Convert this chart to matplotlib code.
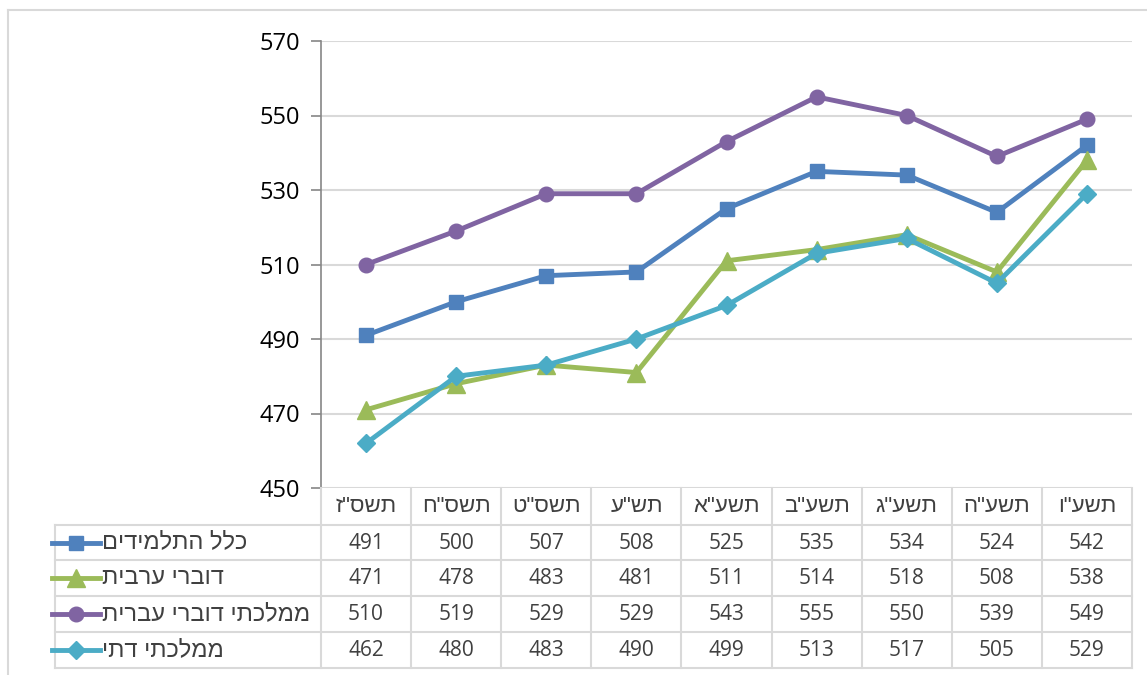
import numpy as np
import matplotlib.pyplot as plt
from matplotlib.lines import Line2D

# years (Hebrew calendar), logical order
years = ['תשס"ז', 'תשס"ח', 'תשס"ט', 'תש"ע', 'תשע"א', 'תשע"ב', 'תשע"ג', 'תשע"ה', 'תשע"ו']

all_students = [491, 500, 507, 508, 525, 535, 534, 524, 542]
arabic = [471, 478, 483, 481, 511, 514, 518, 508, 538]
hebrew_state = [510, 519, 529, 529, 543, 555, 550, 539, 549]
state_religious = [462, 480, 483, 490, 499, 513, 517, 505, 529]

series_names = ['כלל התלמידים', 'דוברי ערבית', 'ממלכתי דוברי עברית', 'ממלכתי דתי']
series_vals = [all_students, arabic, hebrew_state, state_religious]
colors = ['#4F81BD', '#9BBB59', '#8064A2', '#4BACC6']
markers = ['s', '^', 'o', 'D']
msizes = [10.5, 12.5, 10.5, 9.5]

FONT = ['Open Sans', 'DejaVu Sans']
HEB = ['Liberation Sans', 'DejaVu Sans']
GRID = '#D9D9D9'
W, H = 1147, 675


def rtl(s):
    # matplotlib has no bidi support, so feed it visual order
    return s[::-1]


def fx(px):
    return px / W


def fy(py):
    return 1 - py / H


fig = plt.figure(figsize=(W / 100, H / 100), dpi=100)

# outer chart frame
fig.add_artist(Line2D([fx(8), fx(1146)], [fy(10), fy(10)], color=GRID, lw=1.5))
fig.add_artist(Line2D([fx(8), fx(8)], [fy(10), 0], color=GRID, lw=1.5))

x0, x1 = 321, 1132
y_top, y_axis = 41, 488
ax = fig.add_axes([fx(x0), fy(y_axis), fx(x1) - fx(x0), fy(y_top) - fy(y_axis)])

x = np.arange(len(years))
for vals, c, m, ms in zip(series_vals, colors, markers, msizes):
    ax.plot(x, vals, color=c, lw=3.5, marker=m, markersize=ms, zorder=3)

ax.set_xlim(-0.5, len(years) - 0.5)
ax.set_ylim(450, 570)
ax.set_yticks(np.arange(450, 571, 20))
ax.set_xticks([])
ax.yaxis.grid(True, color=GRID, lw=1.5)
ax.set_axisbelow(True)
for s in ['top', 'right', 'bottom']:
    ax.spines[s].set_visible(False)
ax.spines['left'].set_color('#868686')
ax.spines['left'].set_linewidth(1.2)
ax.tick_params(axis='y', direction='out', length=7, color='#868686', width=1.2,
               labelsize=17, pad=8, labelcolor='black')
for lab in ax.get_yticklabels():
    lab.set_fontfamily(FONT)

# data table below the plot, same column scale as the chart
t_left, t_bot = 55, 668
col_w = (x1 - x0) / len(years)
tx = fig.add_axes([fx(t_left), fy(t_bot), fx(x1) - fx(t_left), fy(y_axis) - fy(t_bot)])
tx.set_xlim(-0.5 - (x0 - t_left) / col_w, len(years) - 0.5)
tx.set_ylim(t_bot, y_axis)  # pixel rows, top = 488
tx.axis('off')

rows = [488, 525, 560, 596, 632, 668]
legend_left = -0.5 - (x0 - t_left) / col_w
lw_t = 1.5
# horizontal lines
for r in rows[1:]:
    tx.plot([legend_left, len(years) - 0.5], [r, r], color=GRID, lw=lw_t, clip_on=False)
# vertical lines
for i in range(len(years) + 1):
    tx.plot([i - 0.5, i - 0.5], [rows[0], rows[-1]], color=GRID, lw=lw_t, clip_on=False)
tx.plot([legend_left, legend_left], [rows[1], rows[-1]], color=GRID, lw=lw_t, clip_on=False)

# header
for i, yr in enumerate(years):
    tx.text(i, (rows[0] + rows[1]) / 2, rtl(yr), ha='center', va='center',
            fontsize=16, color='#404040', family=HEB)

# series rows
for k, (name, vals, c, m, ms) in enumerate(zip(series_names, series_vals, colors, markers, msizes)):
    yc = (rows[k + 1] + rows[k + 2]) / 2
    key_l = legend_left + (52 - t_left) / col_w
    key_r = legend_left + (100 - t_left) / col_w
    tx.plot([key_l, key_r], [yc, yc], color=c, lw=3.5, clip_on=False)
    tx.plot([(key_l + key_r) / 2], [yc], color=c, marker=m, markersize=ms, clip_on=False)
    tx.text(legend_left + (102 - t_left) / col_w, yc, rtl(name), ha='left', va='center',
            fontsize=17, color='#404040', family=HEB)
    for i, v in enumerate(vals):
        tx.text(i, yc + 1, str(v), ha='center', va='center', fontsize=15,
                color='#404040', family=FONT)

fig.savefig('out.png', dpi=100)
